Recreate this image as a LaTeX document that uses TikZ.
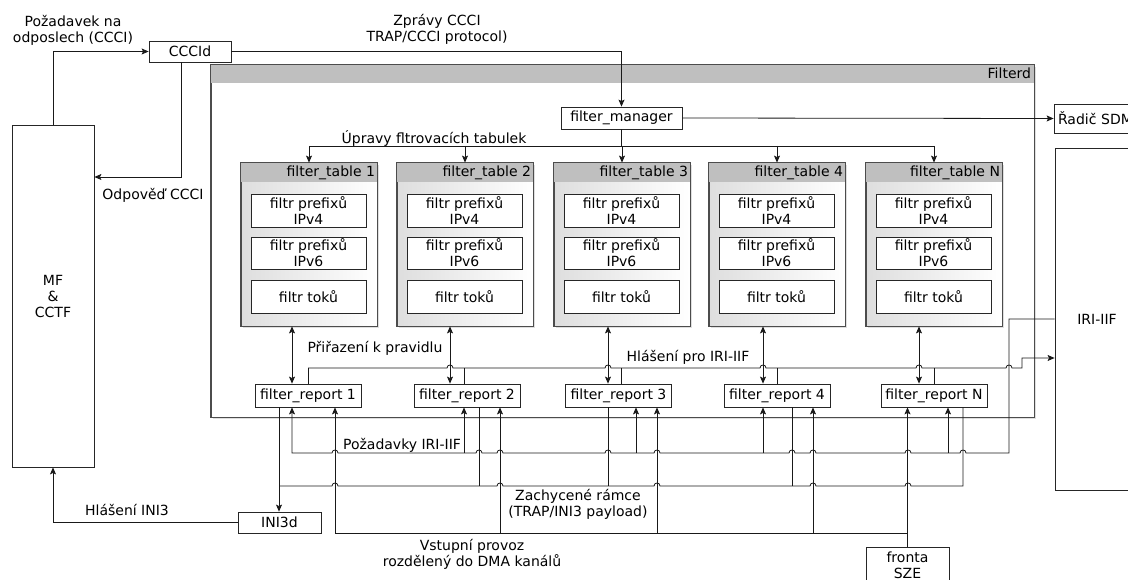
\documentclass[tikz,border=0pt]{standalone}
\usepackage{fontspec}
\setmainfont{DejaVu Sans}
\usetikzlibrary{arrows.meta,shadows}

% line hop over a crossing vertical line (drawn leftwards / rightwards)
\newcommand{\hopL}[2]{-- ({#1+3},#2) .. controls ({#1+3},{#2-4}) and ({#1-3},{#2-4}) .. ({#1-3},#2)}
\newcommand{\hopR}[2]{-- ({#1-3},#2) .. controls ({#1-3},{#2-4}) and ({#1+3},{#2-4}) .. ({#1+3},#2)}

\begin{document}
\begin{tikzpicture}[x=1pt,y=-1pt,
  font=\fontsize{14}{16}\selectfont,
  line width=0.8pt,
  ln/.style={draw=black!90},
  arr/.style={ln,-{Stealth[length=7pt,width=6pt,inset=1.5pt]}},
  arr2/.style={ln,{Stealth[length=7pt,width=6pt,inset=1.5pt]}-{Stealth[length=7pt,width=6pt,inset=1.5pt]}},
  blk/.style={draw=black!85,fill=white,inner sep=0pt,align=center},
  outerbox/.style={draw=black!70,fill=white,inner sep=0pt,
    drop shadow={shadow xshift=2pt,shadow yshift=-2pt,opacity=0.25}},
  tbl/.style={draw=black!70,inner sep=0pt,minimum width=136pt,minimum height=163pt,
    left color=black!13,right color=white,
    drop shadow={shadow xshift=2pt,shadow yshift=-2pt,opacity=0.25}},
  hdr/.style={fill=black!25},
  lbl/.style={align=center,inner sep=0pt}
]
\useasboundingbox (0,0) rectangle (1128,580);
\clip (0,0) rectangle (1128,580);

% ---- outer Filterd block
\node[outerbox,minimum width=823pt,minimum height=352pt] (filterd) at (622.5,241) {};
\fill[hdr] (filterd.north west) rectangle ([yshift=-18pt]filterd.north east);
\draw[draw=black!70] (filterd.north west) rectangle (filterd.south east);
\node[anchor=base east,inner sep=0pt] (filterdlbl) at ([xshift=-3pt,yshift=-14pt]filterd.north east) {Filterd};

% ---- external blocks
\node[blk,minimum width=82pt,minimum height=342pt] (mf) at (53,296) {MF\\\&\\CCTF};
\node[blk,minimum width=82pt,minimum height=21pt] (ccci) at (190,51.5) {CCCId};
\node[blk,minimum width=121pt,minimum height=22pt] (fm) at (621.5,118) {filter\_manager};
\node[blk,minimum width=130pt,minimum height=29pt,text width=122pt,align=left] (sdm) at (1119,118.5) {Řadič SDM};
\node[blk,minimum width=84pt,minimum height=342pt] (iri) at (1097,319) {IRI-IIF};
\node[blk,minimum width=83pt,minimum height=21pt] (ini) at (279.5,522.5) {INI3d};
\node[blk,minimum width=83pt,minimum height=36pt] (sze) at (907.5,565) {fronta\\SZE};

% ---- filter tables
\foreach \i/\L/\n in {1/241/1,2/397/2,3/554/3,4/709/4,5/866/N}{
  \node[tbl] (t\i) at (\L+68,244.5) {};
  \fill[hdr] (t\i.north west) rectangle ([yshift=-19pt]t\i.north east);
  \draw[draw=black!70] (t\i.north west) rectangle (t\i.south east);
  \node[anchor=base east,inner sep=0pt] (th\i) at ([xshift=-2pt,yshift=-14pt]t\i.north east) {filter\_table \n};
  \node[blk,minimum width=115pt,minimum height=33pt] (a\i) at (\L+67.5,210.5) {filtr prefixů\\IPv4};
  \node[blk,minimum width=115pt,minimum height=32pt] (b\i) at (\L+67.5,253) {filtr prefixů\\IPv6};
  \node[blk,minimum width=115pt,minimum height=33pt] (c\i) at (\L+67.5,296.5) {filtr toků};
}

% ---- filter reports
\foreach \i/\x/\n in {1/308/1,2/467/2,3/618.5/3,4/777/4,5/934/N}
  \node[blk,minimum width=106pt,minimum height=23pt] (r\i) at (\x,395.5) {filter\_report \n};

% ---- CCCI control
\draw[arr] (mf.north) |- (ccci.west);
\draw[arr] (181,0 |- ccci.south) |- (mf.east |- 0,177);
\draw[arr] (ccci.east) -| (fm.north);
\draw[arr] (fm.east) -- (sdm.west);

% ---- table updates
\draw[ln] (fm.south) -- (fm.south |- 0,146);
\draw[ln] (t1.north |- 0,146) -- (t5.north |- 0,146);
\foreach \i in {1,...,5} \draw[arr] (t\i.north |- 0,146) -- (t\i.north);

% ---- rule assignment
\foreach \i/\x in {1/292,2/450,3/608,4/763,5/919}
  \draw[arr2] (\x,0 |- t\i.south) -- (\x,0 |- r\i.north);

% ---- reports for IRI-IIF
\foreach \i/\x in {1/308,2/464,3/621,4/777,5/934}
  \draw[ln] (\x,0 |- r\i.north) -- (\x,368);
\draw[arr] (308,368) \hopR{450}{368} \hopR{608}{368} \hopR{763}{368} \hopR{919}{368} \hopR{1009}{368}
  -- (1022,368) -- (1022,358) -- (iri.west |- 0,358);

% ---- IRI-IIF requests
\draw[arr] (iri.west |- 0,319) -- (1009,319) -- (1009,453)
  \hopL{963}{453} \hopL{908}{453} \hopL{813}{453} \hopL{792}{453} \hopL{657}{453}
  \hopL{608}{453} \hopL{500}{453} \hopL{479}{453} \hopL{335}{453}
  -- (292,453) -- (292,0 |- r1.south);
\foreach \i/\x in {2/464,3/636,4/763,5/948}
  \draw[arr] (\x,453) -- (\x,0 |- r\i.south);

% ---- captured frames to INI3d
\draw[arr] (279,0 |- r1.south) -- (279,0 |- ini.north);
\foreach \i/\x in {2/479,3/608,4/792}
  \draw[ln] (\x,0 |- r\i.south) -- (\x,486);
\draw[ln] (963,0 |- r5.south) -- (963,486)
  \hopL{908}{486} \hopL{813}{486} \hopL{657}{486} \hopL{500}{486} \hopL{335}{486} -- (279,486);

% ---- input traffic
\draw[arr] (sze.north) -- (sze.north |- r5.south);
\draw[arr] (sze.north |- 0,533) -- (335,533) -- (335,0 |- r1.south);
\foreach \i/\x in {2/500,3/657,4/813}
  \draw[arr] (\x,533) -- (\x,0 |- r\i.south);

% ---- INI3 reports
\draw[arr] (ini.west) -| (mf.south);

% ---- labels
\node[lbl] (l1) at (73,30) {Požadavek na\\odposlech (CCCI)};
\node[lbl] (l2) at (437,29) {Zprávy CCCI\\TRAP/CCCI protocol)};
\node[lbl] (l3) at (153,195) {Odpověď CCCI};
\node[lbl] (l4) at (434,138) {Úpravy fltrovacích tabulek};
\node[lbl] (l5) at (375,348) {Přiřazení k pravidlu};
\node[lbl] (l6) at (688,357) {Hlášení pro IRI-IIF};
\node[lbl] (l7) at (402,445) {Požadavky IRI-IIF};
\node[lbl] (l8) at (578,504) {Zachycené rámce\\(TRAP/INI3 payload)};
\node[lbl] (l9) at (472,554) {Vstupní provoz\\rozdělený do DMA kanálů};
\node[lbl] (l10) at (127,510) {Hlášení INI3};
\end{tikzpicture}
\end{document}
